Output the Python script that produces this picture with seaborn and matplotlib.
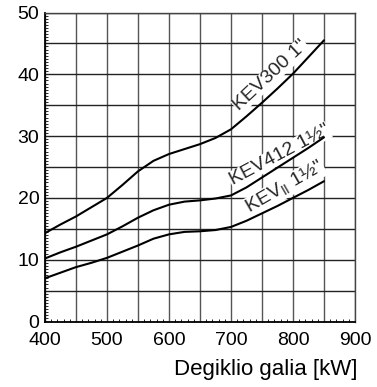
import matplotlib
matplotlib.use("Agg")
import matplotlib.pyplot as plt
import seaborn as sns
import pandas as pd
from matplotlib.ticker import MultipleLocator

sns.set_theme(style="white")
plt.rcParams['font.family'] = ['Liberation Sans', 'DejaVu Sans']
plt.rcParams['mathtext.fontset'] = 'custom'
plt.rcParams['mathtext.rm'] = 'Liberation Sans'

power_kw = [400, 425, 450, 475, 500, 525, 550, 575, 600, 625, 650, 675, 700, 725, 750, 775, 800, 825, 850]
kev300 = [14.3, 15.7, 17.0, 18.5, 20.0, 22.1, 24.3, 26.0, 27.1, 27.9, 28.7, 29.7, 31.1, 33.2, 35.4, 37.7, 40.1, 42.8, 45.5]
kev412 = [10.2, 11.2, 12.1, 13.1, 14.1, 15.4, 16.8, 18.0, 18.9, 19.4, 19.6, 19.9, 20.4, 21.7, 23.3, 24.9, 26.5, 28.1, 29.8]
kev_ii = [7.0, 7.9, 8.8, 9.5, 10.3, 11.3, 12.3, 13.4, 14.1, 14.5, 14.6, 14.8, 15.3, 16.3, 17.5, 18.7, 20.0, 21.3, 22.7]
x_ticks = [400, 500, 600, 700, 800, 900]
y_ticks = [0, 10, 20, 30, 40, 50]
x_label = "Degiklio galia [kW]"
series_labels = ['KEV300 1"', 'KEV412 1½"', 'KEV$_{\\mathregular{II}}$ 1½"']

df = pd.DataFrame({
    "power": power_kw * 3,
    "value": kev300 + kev412 + kev_ii,
    "series": ["KEV300"] * len(power_kw) + ["KEV412"] * len(power_kw) + ["KEVII"] * len(power_kw),
})

fig = plt.figure(figsize=(3.77, 3.87), dpi=100)
ax = fig.add_axes([45 / 377, 1 - 321.5 / 387, 310 / 377, 309 / 387])

sns.lineplot(data=df, x="power", y="value", units="series", estimator=None,
             color="black", linewidth=1.5, ax=ax, legend=False, zorder=3)

ax.set_xlim(400, 900)
ax.set_ylim(0, 50)
ax.set_xticks(x_ticks)
ax.set_yticks(y_ticks)
ax.xaxis.set_minor_locator(MultipleLocator(10))
ax.yaxis.set_minor_locator(MultipleLocator(0.5))

# grid
for gx in range(400, 901, 50):
    ax.axvline(gx, color="#555555", linewidth=1.0, zorder=1)
for gy in range(0, 51, 5):
    ax.axhline(gy, color="#222222", linewidth=1.0, zorder=1)

for s in ["left", "bottom"]:
    ax.spines[s].set_color("black")
    ax.spines[s].set_linewidth(1.3)
for s in ["top", "right"]:
    ax.spines[s].set_color("#444444")
    ax.spines[s].set_linewidth(1.0)

ax.tick_params(axis="both", which="major", direction="in", length=0, labelsize=14, colors="black")
ax.tick_params(axis="x", which="major", pad=7.5)
ax.tick_params(axis="y", which="major", pad=4)
ax.tick_params(axis="both", which="minor", direction="in", length=2.5, width=0.6, color="black")
ax.tick_params(left=True, bottom=True, which="minor")
for lab in ax.get_yticklabels():
    lab.set_verticalalignment("center_baseline")

ax.set_xlabel("")
ax.set_ylabel("")
fig.text(357 / 377, 1 - 370 / 387, x_label, ha="right", va="center", fontsize=16, color="black")

bbox = dict(facecolor="white", edgecolor="none", pad=0.3)
ax.text(764, 39.8, series_labels[0], rotation=43, ha="center", va="center",
        rotation_mode="anchor", fontsize=14, bbox=bbox, zorder=2)
ax.text(778, 26.9, series_labels[1], rotation=28, ha="center", va="center",
        rotation_mode="anchor", fontsize=14, bbox=bbox, zorder=2)
ax.text(787, 21.7, series_labels[2], rotation=30, ha="center", va="center",
        rotation_mode="anchor", fontsize=14, bbox=bbox, zorder=2)

fig.savefig("out.png", dpi=100)
